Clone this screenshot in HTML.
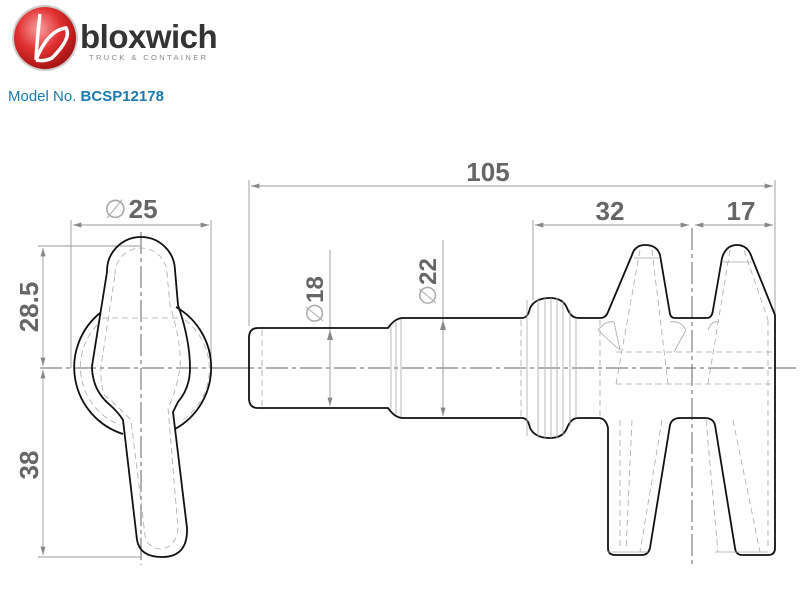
<!DOCTYPE html>
<html><head><meta charset="utf-8"><style>
html,body{margin:0;padding:0;background:#fff;width:800px;height:590px;overflow:hidden}
svg{display:block}
.o{fill:none;stroke:#111;stroke-width:1.8;stroke-linejoin:round}
.h{fill:none;stroke:#aaa;stroke-width:0.8;stroke-dasharray:6 4}
.t{fill:none;stroke:#aaa;stroke-width:0.8}
.c{fill:none;stroke:#666;stroke-width:1;stroke-dasharray:22 4 4 4}
.d{stroke:#999;stroke-width:0.9;fill:none}
.dt{font-family:"Liberation Sans",sans-serif;font-weight:bold;fill:#666;font-size:26px}
</style></head><body>
<svg width="800" height="590" viewBox="0 0 800 590" xmlns="http://www.w3.org/2000/svg">
<defs>
<marker id="a" viewBox="0 0 10 6" refX="10" refY="3" markerWidth="12" markerHeight="5" orient="auto-start-reverse" markerUnits="userSpaceOnUse"><path d="M0,0 L10,3 L0,6z" fill="#888"/></marker>
<radialGradient id="rg" cx="40%" cy="35%" r="70%"><stop offset="0" stop-color="#f7a0a0"/><stop offset="0.5" stop-color="#e03030"/><stop offset="1" stop-color="#a01010"/></radialGradient>
</defs>
<!-- logo -->
<circle cx="45" cy="38" r="33" fill="#ccc"/>
<circle cx="45" cy="38" r="31" fill="url(#rg)"/>
<path d="M40,14 Q37,40 36,60 M36,60 Q48,30 66,28 Q72,38 52,58 Q44,62 36,60" fill="none" stroke="#fff" stroke-width="3.5"/>
<text x="80" y="48" font-family="Liberation Sans,sans-serif" font-weight="bold" font-size="33" fill="#333" letter-spacing="-0.5">bloxwich</text>
<text x="89" y="60" font-family="Liberation Sans,sans-serif" font-size="7.5" fill="#888" letter-spacing="2.4">TRUCK &amp; CONTAINER</text>
<text x="8" y="101" font-family="Liberation Sans,sans-serif" font-size="15" fill="#1a7bb0">Model No. <tspan font-weight="bold">BCSP12178</tspan></text>

<!-- left view -->
<line class="c" x1="40" y1="368" x2="232" y2="368"/>
<line class="c" x1="141" y1="232" x2="141" y2="565"/>
<line class="d" x1="71" y1="220" x2="71" y2="368"/>
<line class="d" x1="211" y1="220" x2="211" y2="368"/>
<line class="d" x1="73" y1="225" x2="209" y2="225" marker-start="url(#a)" marker-end="url(#a)"/>
<text x="104" y="218" font-family="Liberation Sans,sans-serif" font-size="26" fill="#aaa">∅<tspan class="dt" dx="2">25</tspan></text>
<line class="d" x1="38" y1="246" x2="141" y2="246"/>
<line class="d" x1="38" y1="557" x2="141" y2="557"/>
<line class="d" x1="43" y1="248" x2="43" y2="366" marker-start="url(#a)" marker-end="url(#a)"/>
<line class="d" x1="43" y1="370" x2="43" y2="555" marker-start="url(#a)" marker-end="url(#a)"/>
<text class="dt" transform="translate(38,307) rotate(-90)" text-anchor="middle">28.5</text>
<text class="dt" transform="translate(38,465) rotate(-90)" text-anchor="middle">38</text>
<path class="o" d="M100,313 A70,70 0 0 0 123,434"/>
<path class="o" d="M176,307 A70,70 0 0 1 175,429"/>
<path class="h" d="M97,325 A62,62 0 0 0 120,425 M185,320 A62,62 0 0 1 183,420 M102,318 L180,318"/>
<path class="o" d="M107,272 A34,34 0 0 1 175,270 L178,305 Q190,340 190,368 Q190,388 178,402 L173,412 L187,528 Q188,557 162,557 Q140,557 137,540 L123,420 Q118,412 110,405 Q92,390 92,366 Z"/>
<path class="h" d="M115,275 A26,26 0 0 1 167,273 L170,305 Q182,345 180,368 Q176,392 168,408 L178,528 Q176,548 160,549 Q146,547 145,535 L131,420 Q118,406 104,395 Q100,380 101,366 L115,275"/>

<!-- side view centre lines -->
<line class="c" x1="232" y1="368" x2="796" y2="368"/>
<line class="c" x1="692" y1="228" x2="692" y2="565"/>
<!-- dims -->
<line class="d" x1="249" y1="180" x2="249" y2="326"/>
<line class="d" x1="775" y1="180" x2="775" y2="316"/>
<line class="d" x1="251" y1="186" x2="773" y2="186" marker-start="url(#a)" marker-end="url(#a)"/>
<text class="dt" x="488" y="181" text-anchor="middle">105</text>
<line class="d" x1="533" y1="220" x2="533" y2="300"/>
<line class="d" x1="535" y1="225" x2="689" y2="225" marker-start="url(#a)" marker-end="url(#a)"/>
<line class="d" x1="695" y1="225" x2="773" y2="225" marker-start="url(#a)" marker-end="url(#a)"/>
<text class="dt" x="610" y="220" text-anchor="middle">32</text>
<text class="dt" x="741" y="220" text-anchor="middle">17</text>
<line class="d" x1="330" y1="250" x2="330" y2="406" marker-end="url(#a)"/>
<line class="d" x1="443" y1="240" x2="443" y2="416" marker-end="url(#a)"/>
<path d="M330,330 l-3,10 l6,0z M443,320 l-3,10 l6,0z" fill="#888"/>
<text transform="translate(323,300) rotate(-90)" text-anchor="middle" font-family="Liberation Sans,sans-serif" font-size="24" fill="#666"><tspan fill="#aaa">∅</tspan><tspan font-weight="bold">18</tspan></text>
<text transform="translate(436,282) rotate(-90)" text-anchor="middle" font-family="Liberation Sans,sans-serif" font-size="24" fill="#666"><tspan fill="#aaa">∅</tspan><tspan font-weight="bold">22</tspan></text>

<!-- shaft outline -->
<path class="o" d="M258,328 L388,328 Q395,318 403,318 L522,318 Q528,318 530,308 Q535,298 550,298 Q563,298 567,308 Q571,318 578,318 L600,318 Q606,318 608,312 L632,255 Q635,245 645,245 Q657,245 660,255 L670,314 Q671,318 675,318 L707,318 Q712,318 713,310 L722,258 Q726,245 737,245 Q748,245 752,258 L775,315 L775,548 Q775,555 768,555 L742,555 Q736,555 735,548 L715,425 Q713,418 705,418 L680,418 Q672,418 670,425 L650,548 Q648,555 642,555 L615,555 Q608,555 608,548 L608,428 Q606,418 598,418 L578,418 Q571,418 567,428 Q563,438 550,438 Q535,438 530,428 Q528,418 522,418 L403,418 Q395,418 388,408 L258,408 Q249,408 249,398 L249,338 Q249,328 258,328 Z"/>
<!-- thin detail lines -->
<path class="t" d="M391,326 V410 M396,322 V414 M401,319 V417 M527,300 V436 M538,298 V438 M545,298 V438 M551,298 V438 M557,298 V438 M563,300 V436 M570,310 V426 M576,318 V418 M634,258 L660,258 M722,262 L752,262 M608,552 H648 M715,552 H768"/>
<path class="h" d="M262,330 V406 M521,320 V416 M600,320 V416 M616,384 H690 M645,384 H775 M616,352 H775 M768,320 V548 M620,420 V550 M640,250 L616,384 M652,250 L668,384 M730,250 L708,384 M744,250 L768,320 M632,420 L626,550 M662,420 L640,552 M706,420 L718,552 M733,420 L760,552"/>
<path class="t" d="M598,330 Q606,320 614,322 L620,350 Q608,340 598,330 M670,322 Q680,320 686,330 L674,352 M708,330 Q712,320 718,322"/>
</svg>
</body></html>
